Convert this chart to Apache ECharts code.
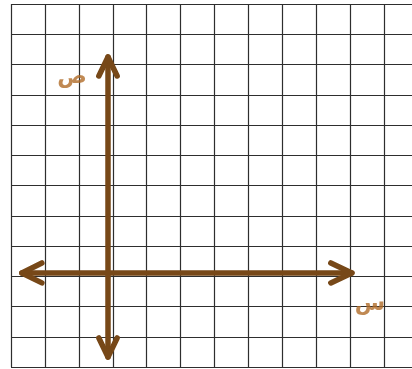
<html lang="ar">
  <head>
    <meta charset="utf-8">
    <title>المحاور</title>
    <script type="text/javascript" src="https://cdn.jsdelivr.net/npm/echarts@6/dist/echarts.min.js"></script>
    <style>
      html, body { margin: 0; padding: 0; background: #fff; }
    </style>
  </head>
  <body>
    <div id="chartDiv" style="width:412px; height:369px;"></div>

    <script>
      // grid is 12 x 12 cells, axes drawn in cell units
      var gridMax = 12;

      // x axis (س) line and arrow heads
      var xAxisLine = [[0.32, 3.11], [10.05, 3.11]];
      var xRightHead = [[9.43, 3.44], [10.05, 3.11], [9.43, 2.78]];
      var xLeftHead = [[0.91, 3.44], [0.32, 3.11], [0.91, 2.78]];

      // y axis (ص) line and arrow heads
      var yAxisLine = [[2.86, 0.33], [2.86, 10.25]];
      var yUpHead = [[2.59, 9.62], [2.86, 10.25], [3.13, 9.62]];
      var yDownHead = [[2.59, 0.96], [2.86, 0.33], [3.13, 0.96]];

      // axis names
      var axisNames = ['ص', 'س'];
      var namePoints = [[1.80, 9.59], [10.58, 2.08]];

      var brown = '#774818';
      var nameColor = '#b06c28';

      function arrowPart(points){
        return {
          type: 'line',
          data: points,
          symbol: 'none',
          silent: true,
          z: 5,
          lineStyle: { color: brown, width: 5.5, cap: 'round', join: 'round' }
        };
      }

      var labelData = [];
      for(var i = 0; i < axisNames.length; i++){
        labelData.push({ name: axisNames[i], value: namePoints[i] });
      }

      var tce = echarts.init(document.getElementById('chartDiv'));
      tce.setOption({
        animation: false,
        // last column runs past the right edge of the picture
        grid: { left: 11, top: 4, width: 407, height: 363, outerBoundsMode: 'none', containLabel: false },
        xAxis: {
          type: 'value', min: 0, max: gridMax, interval: 1,
          axisLine: { show: false }, axisTick: { show: false }, axisLabel: { show: false },
          splitLine: { lineStyle: { color: '#2e2e2e', width: 1.2 } }
        },
        yAxis: {
          type: 'value', min: 0, max: gridMax, interval: 1,
          axisLine: { show: false }, axisTick: { show: false }, axisLabel: { show: false },
          splitLine: { lineStyle: { color: '#2e2e2e', width: 1.2 } }
        },
        series: [
          arrowPart(xAxisLine),
          arrowPart(xRightHead),
          arrowPart(xLeftHead),
          arrowPart(yAxisLine),
          arrowPart(yUpHead),
          arrowPart(yDownHead),
          {
            type: 'scatter',
            data: labelData,
            symbolSize: 0,
            silent: true,
            label: {
              show: true,
              position: 'inside',
              formatter: '{b}',
              color: nameColor,
              fontSize: 22,
              fontWeight: 'bold',
              fontFamily: 'DejaVu Sans'
            }
          }
        ]
      });
    </script>
  </body>
</html>
